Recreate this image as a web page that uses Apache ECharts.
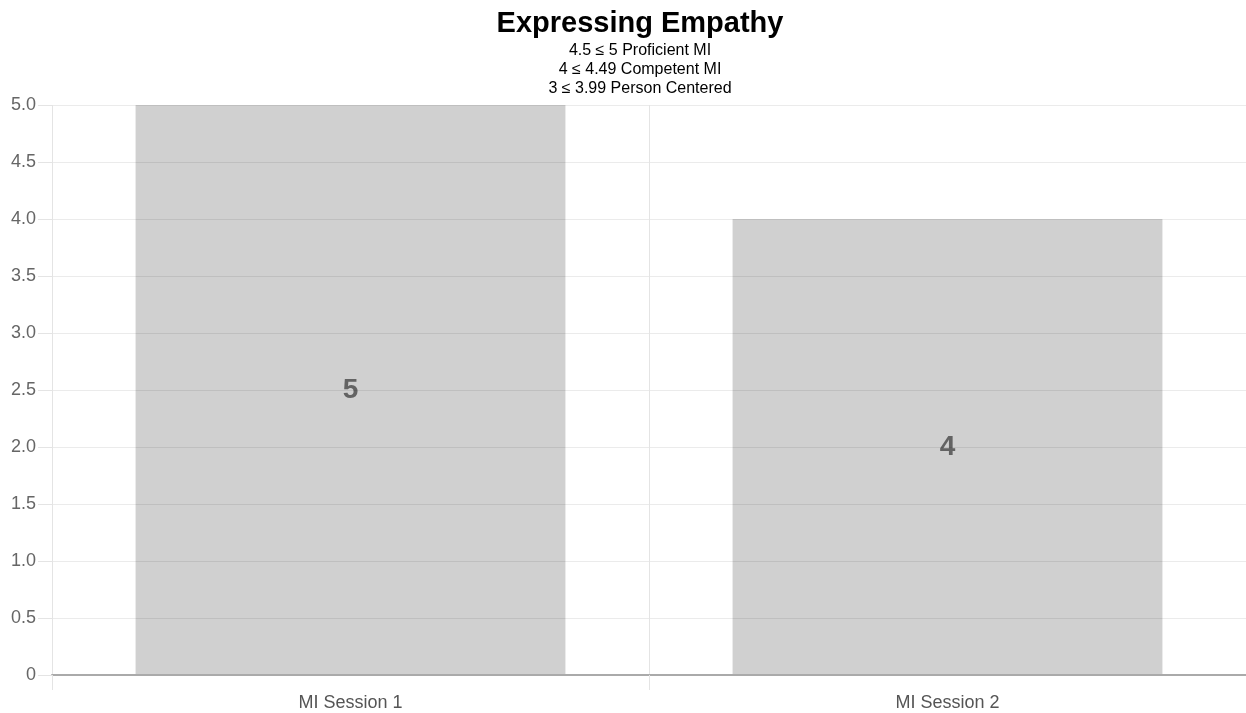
<!DOCTYPE html>
<html>
<head>
<meta charset="utf-8">
<script src="https://cdn.jsdelivr.net/npm/echarts@6/dist/echarts.min.js"></script>
<style>
html,body{margin:0;padding:0;background:#fff;}
#chart{width:1246px;height:713px;}
</style>
</head>
<body>
<div id="chart"></div>
<script>
const titleText = 'Expressing Empathy';
const subtitleLines = ['4.5 ≤ 5 Proficient MI', '4 ≤ 4.49 Competent MI', '3 ≤ 3.99 Person Centered'];
const categories = ['MI Session 1', 'MI Session 2'];
const values = [5, 4];
const yMin = 0, yMax = 5, yInterval = 0.5;

const chart = echarts.init(document.getElementById('chart'));
const font = '"Liberation Sans", Arial, sans-serif';
chart.setOption({
  animation: false,
  title: {
    text: titleText,
    subtext: subtitleLines.join('\n'),
    left: 635,
    textAlign: 'center',
    top: 4,
    itemGap: 3,
    textStyle: { fontFamily: font, fontSize: 29, fontWeight: 'bold', color: '#000' },
    subtextStyle: { fontFamily: font, fontSize: 16, color: '#000', lineHeight: 19 }
  },
  grid: { left: 52, right: 0, top: 105, bottom: 38, containLabel: false },
  xAxis: {
    type: 'category',
    data: categories,
    axisLine: { show: true, lineStyle: { color: '#aaaaaa', width: 2 } },
    axisTick: { show: true, length: 15, lineStyle: { color: '#e4e4e4' } },
    splitLine: { show: true, lineStyle: { color: '#e4e4e4' } },
    axisLabel: { fontFamily: font, fontSize: 18, color: '#555', margin: 19 },
    z: 3
  },
  yAxis: {
    type: 'value',
    min: yMin, max: yMax, interval: yInterval,
    axisLine: { show: false },
    axisTick: { show: true, length: 14, lineStyle: { color: '#e4e4e4' } },
    splitLine: { show: true, lineStyle: { color: 'rgba(0,0,0,0.08)' } },
    axisLabel: {
      fontFamily: font, fontSize: 18, color: '#666', margin: 16,
      formatter: v => v === 0 ? '0' : v.toFixed(1)
    },
    z: 3
  },
  series: [{
    type: 'bar',
    data: values,
    barCategoryGap: '28%',
    itemStyle: { color: '#d0d0d0' },
    label: {
      show: true, position: 'inside',
      fontFamily: font, fontSize: 28, fontWeight: 'bold', color: '#636363'
    },
    z: 2
  }]
});
</script>
</body>
</html>
